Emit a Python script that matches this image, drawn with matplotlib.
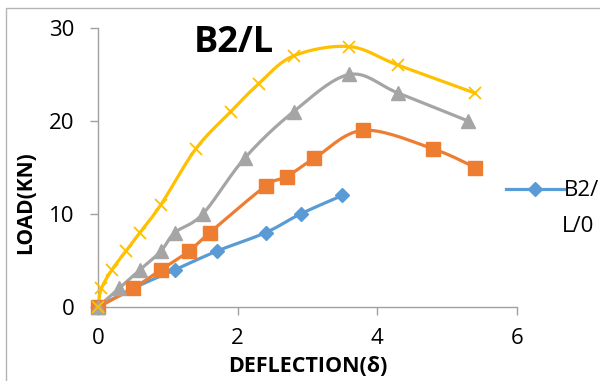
import matplotlib
matplotlib.use('Agg')
import matplotlib.pyplot as plt
import numpy as np
from matplotlib.patches import Rectangle

# series (deflection, load)
blue_x = [0, 0.5, 1.1, 1.7, 2.4, 2.9, 3.5]
blue_y = [0, 2, 4, 6, 8, 10, 12]
orange_x = [0, 0.5, 0.9, 1.3, 1.6, 2.4, 2.7, 3.1, 3.8, 4.8, 5.4]
orange_y = [0, 2, 4, 6, 8, 13, 14, 16, 19, 17, 15]
gray_x = [0, 0.3, 0.6, 0.9, 1.1, 1.5, 2.1, 2.8, 3.6, 4.3, 5.3]
gray_y = [0, 2, 4, 6, 8, 10, 16, 21, 25, 23, 20]
yellow_x = [0, 0.05, 0.2, 0.4, 0.6, 0.9, 1.4, 1.9, 2.3, 2.8, 3.6, 4.3, 5.4]
yellow_y = [0, 2, 4, 6, 8, 11, 17, 21, 24, 27, 28, 26, 23]

x_ticks = [0, 2, 4, 6]
y_ticks = [0, 10, 20, 30]
legend_label = 'B2/'
legend_label2 = 'L/0'


def smooth(x, y, n=20):
    # excel style smoothed line (catmull-rom bezier)
    x = np.asarray(x, float)
    y = np.asarray(y, float)
    px = np.concatenate([[x[0]], x, [x[-1]]])
    py = np.concatenate([[y[0]], y, [y[-1]]])
    xs, ys = [], []
    t = np.linspace(0, 1, n)
    for i in range(1, len(px) - 2):
        p0 = np.array([px[i], py[i]])
        p3 = np.array([px[i + 1], py[i + 1]])
        c1 = p0 + (p3 - np.array([px[i - 1], py[i - 1]])) / 6
        c2 = p3 - (np.array([px[i + 2], py[i + 2]]) - p0) / 6
        for tt in t:
            b = ((1 - tt) ** 3) * p0 + 3 * ((1 - tt) ** 2) * tt * c1 \
                + 3 * (1 - tt) * tt ** 2 * c2 + tt ** 3 * p3
            xs.append(b[0])
            ys.append(b[1])
    return xs, ys


plt.rcParams['font.family'] = ['Open Sans', 'DejaVu Sans']

fig = plt.figure(figsize=(6, 3.81), dpi=100)
ax = fig.add_axes([98 / 600, 74 / 381, 419 / 600, 279 / 381])

fig.patches.append(Rectangle((6 / 600, -0.1), 1.2, (381 - 8) / 381 + 0.1,
                             transform=fig.transFigure, fill=False,
                             edgecolor='#b4b4b4', linewidth=1))

series = [
    (blue_x, blue_y, '#5b9bd5', 'D', 7, legend_label),
    (orange_x, orange_y, '#ed7d31', 's', 9.5, None),
    (gray_x, gray_y, '#a5a5a5', '^', 10, None),
    (yellow_x, yellow_y, '#ffc000', 'x', 9, None),
]
for sx, sy, c, m, ms, lab in series:
    lx, ly = smooth(sx, sy)
    ax.plot(lx, ly, color=c, linewidth=2.3, zorder=2, clip_on=False)
    ax.plot(sx, sy, linestyle='none', marker=m, markersize=ms, color=c,
            markeredgewidth=1.3 if m == 'x' else 1, zorder=3, clip_on=False)
    if lab:
        ax.plot([], [], color=c, linewidth=2.3, marker=m, markersize=ms,
                label=lab)

ax.set_xlim(0, 6)
ax.set_ylim(0, 30)
ax.set_xticks(x_ticks)
ax.set_yticks(y_ticks)
for s in ['top', 'right']:
    ax.spines[s].set_visible(False)
for s in ['left', 'bottom']:
    ax.spines[s].set_color('#a0a0a0')
    ax.spines[s].set_linewidth(1)
    ax.spines[s].set_zorder(1)
ax.tick_params(axis='both', colors='#a0a0a0', length=6, width=1,
               labelcolor='black', labelsize=16)
ax.tick_params(axis='y', pad=11)
ax.tick_params(axis='x', pad=9)

ax.set_xlabel('DEFLECTION(δ)', fontsize=15.5, fontweight='bold', labelpad=5)
ax.set_ylabel('LOAD(KN)', fontsize=15, fontweight='bold', labelpad=9)
ax.yaxis.label.set_y(0.373)

fig.text(234 / 600, 1 - 43 / 381, 'B2/L', fontsize=26, fontweight='bold',
         ha='center', va='center')

leg = ax.legend(loc='center left', bbox_to_anchor=(495 / 600, 1 - 191 / 381),
                bbox_transform=fig.transFigure, frameon=False, fontsize=16,
                handlelength=2.6, handletextpad=0.0, borderpad=0)
fig.text(562 / 600, 1 - 226 / 381, legend_label2, fontsize=16,
         ha='left', va='center')

fig.savefig('out.png', dpi=100)
